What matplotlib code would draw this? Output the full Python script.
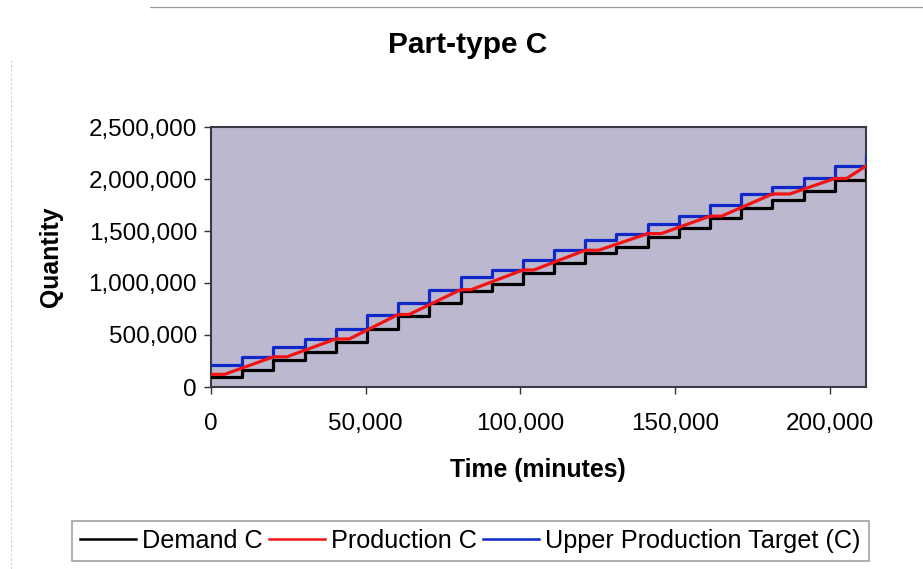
import matplotlib
matplotlib.use("Agg")
import matplotlib.pyplot as plt
from matplotlib.ticker import FuncFormatter, FixedLocator
from matplotlib.lines import Line2D

plt.rcParams['font.family'] = ['Liberation Sans', 'DejaVu Sans']

# ---- data ----
week_starts = [0, 10080, 20160, 30240, 40320, 50400, 60480, 70560, 80640, 90720,
               100800, 110880, 120960, 131040, 141120, 151200, 161280, 171360,
               181440, 191520, 201600, 211680]
demand_c = [96000, 167000, 260000, 336000, 430000, 560000, 681000, 810000, 921000,
            992000, 1094000, 1190000, 1286000, 1350000, 1446000, 1526000, 1622000,
            1722000, 1801000, 1881000, 1993000, 2090000]
upper_target_c = [212000, 292000, 384000, 461000, 554000, 695000, 806000, 935000,
                  1056000, 1127000, 1220000, 1319000, 1415000, 1472000, 1568000,
                  1641000, 1753000, 1856000, 1926000, 2006000, 2121000, 2224000]
prod_t = [0, 4400, 20160, 24500, 40320, 44700, 60480, 64000, 80640, 84000, 100800,
          104300, 120960, 125300, 141120, 145500, 161280, 165000, 181440, 187000,
          201600, 205400, 211680]
production_c = [122000, 122000, 290000, 290000, 462000, 462000, 697000, 697000,
                935000, 935000, 1125000, 1125000, 1315000, 1315000, 1475000, 1475000,
                1643000, 1643000, 1856000, 1856000, 2005000, 2005000, 2125000]
x_ticks = [0, 50000, 100000, 150000, 200000]
y_ticks = [0, 500000, 1000000, 1500000, 2000000, 2500000]
series_names = ["Demand C", "Production C", "Upper Production Target (C)"]
series_colors = ["#000000", "#f01414", "#1028c8"]

W, H = 923, 569
fig = plt.figure(figsize=(W / 100, H / 100), dpi=100)
fig.patch.set_facecolor("white")

# outer chart frame (faint)
fig.add_artist(Line2D([150 / W, 1.0], [1 - 7 / H, 1 - 7 / H], color="#9a9a9a", lw=0.9))
fig.add_artist(Line2D([11 / W, 11 / W], [0.0, 1 - 60 / H], color="#d0d0d0", lw=0.8, ls=(0, (2, 2))))

ax = fig.add_axes([211 / W, 1 - 387 / H, 655 / W, 260 / H])
ax.set_facecolor("#bbb8d0")

ax.step(week_starts, demand_c, where="post", color=series_colors[0], lw=2.3, label=series_names[0], zorder=3)
ax.plot(prod_t, production_c, color=series_colors[1], lw=2.3, label=series_names[1], zorder=4)
ax.step(week_starts, upper_target_c, where="post", color=series_colors[2], lw=2.3, label=series_names[2], zorder=3)

ax.set_xlim(0, 211680)
ax.set_ylim(0, 2500000)
ax.xaxis.set_major_locator(FixedLocator(x_ticks))
ax.yaxis.set_major_locator(FixedLocator(y_ticks))
fmt = FuncFormatter(lambda v, p: f"{v:,.0f}")
ax.xaxis.set_major_formatter(fmt)
ax.yaxis.set_major_formatter(fmt)
ax.tick_params(axis="both", direction="out", length=5, width=1.0, color="#333333",
               labelsize=17.5, labelcolor="black")
ax.tick_params(axis="x", pad=14)
ax.tick_params(axis="y", pad=5)
for s in ax.spines.values():
    s.set_color("#3a3a44")
    s.set_linewidth(1.5)

fig.text(468 / W, 1 - 53 / H, "Part-type C", ha="center", va="baseline",
         fontsize=21.5, fontweight="bold")
fig.text(538 / W, 1 - 470 / H, "Time (minutes)", ha="center", va="center",
         fontsize=17.9, fontweight="bold")
fig.text(51 / W, 1 - 257 / H, "Quantity", ha="center", va="center", rotation=90,
         fontsize=17.9, fontweight="bold")

handles = [Line2D([], [], color=c, lw=1.8) for c in series_colors]
leg = fig.legend(handles, series_names, loc="center",
                 bbox_to_anchor=(470.5 / W, 1 - 541 / H), ncol=3, fontsize=18.2,
                 frameon=True, fancybox=False, shadow=False, handlelength=2.2,
                 handletextpad=0.25, columnspacing=0.25, borderpad=0.32,
                 borderaxespad=0)
leg.get_frame().set_edgecolor("#8a8a8a")
leg.get_frame().set_linewidth(1.2)
leg.get_frame().set_facecolor("white")

fig.savefig("out.png", dpi=100)
